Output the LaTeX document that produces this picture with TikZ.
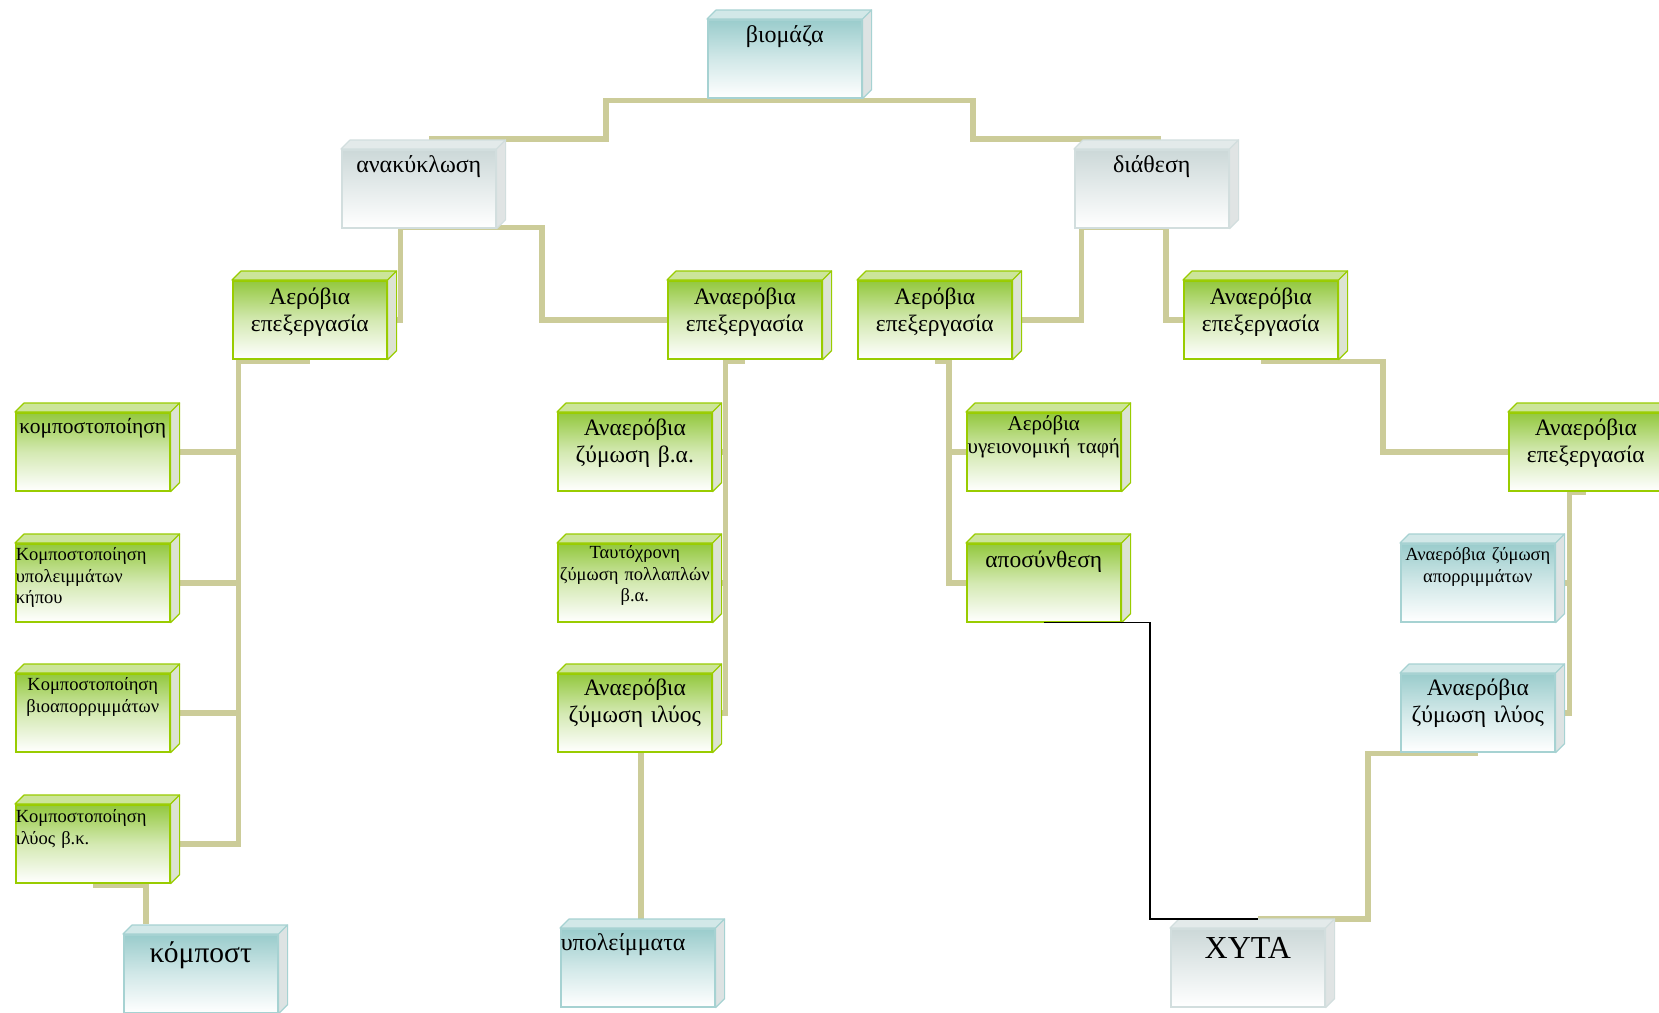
\documentclass[tikz,border=0pt]{standalone}
\usepackage{fontspec}
\setmainfont{Liberation Serif}
\usepackage{tikz}
\usetikzlibrary{backgrounds}

\definecolor{linkc}{HTML}{CCCC99}
\definecolor{gedge}{HTML}{99CC00}
\definecolor{gfront}{HTML}{93C83E}
\definecolor{gtopf}{HTML}{CCE59A}
\definecolor{gsidef}{HTML}{DCE3D2}
\definecolor{tedge}{HTML}{A6D2D2}
\definecolor{tfront}{HTML}{9ACCCC}
\definecolor{ttopf}{HTML}{D2E8E8}
\definecolor{tsidef}{HTML}{DDE3E3}
\definecolor{sedge}{HTML}{D2DEDE}
\definecolor{sfront}{HTML}{CCD8D8}
\definecolor{stopf}{HTML}{E3EAEA}
\definecolor{ssidef}{HTML}{E0E4E4}

\tikzset{
  cube/.style={anchor=north west, minimum width=154pt, text width=154pt, inner xsep=0pt, inner ysep=0pt, align=center, line width=1.6pt},
  bl/.code={\pgfmathsetlengthmacro\cubedp{78pt-#1}\edef\cubetmp{\noexpand\tikzset{text height=#1, text depth=\cubedp}}\cubetmp},
  gbox/.style={cube, draw=gedge, top color=gfront, bottom color=white, middle color=gfront!40!white},
  tbox/.style={cube, draw=tedge, top color=tfront, bottom color=white, middle color=tfront!45!white},
  sbox/.style={cube, draw=sedge, top color=sfront, bottom color=white, middle color=sfront!50!white},
  topg/.style={fill=gtopf, draw=gedge, line width=1.2pt, line join=round},
  sideg/.style={fill=gsidef, draw=gedge, line width=1.2pt, line join=round},
  topt/.style={fill=ttopf, draw=tedge, line width=1.2pt, line join=round},
  sidet/.style={fill=tsidef, draw=tedge, line width=1.2pt, line join=round},
  tops/.style={fill=stopf, draw=sedge, line width=1.2pt, line join=round},
  sides/.style={fill=ssidef, draw=sedge, line width=1.2pt, line join=round},
  link/.style={draw=linkc, line width=5.5pt},
  blk/.style={draw=black, line width=1.6pt},
  fa/.style={font=\fontsize{24}{28}\selectfont},
  fk/.style={font=\fontsize{21.5}{25}\selectfont},
  fb/.style={font=\fontsize{23.5}{27}\selectfont},
  fc/.style={font=\fontsize{18.5}{21.5}\selectfont},
  fd/.style={font=\fontsize{18.5}{21.5}\selectfont},
  ff/.style={font=\fontsize{21}{23}\selectfont},
  fe/.style={font=\fontsize{29.5}{33}\selectfont},
  fg/.style={font=\fontsize{32}{36}\selectfont}
}

\begin{document}
\begin{tikzpicture}[x=1pt, y=-1pt]
  \useasboundingbox (0,0) rectangle (1659,1012);

  % top levels
  \node[tbox, fa, bl=23pt] (bio) at (707,19) {βιομάζα};
  \node[sbox, fa, bl=23pt] (ana) at (341,149) {ανακύκλωση};
  \node[sbox, fa, bl=23pt] (dia) at (1074,149) {διάθεση};

  \node[gbox, fb, bl=24pt] (aer1) at (232,280) {Αερόβια\\επεξεργασία};
  \node[gbox, fb, bl=24pt] (anaer1) at (667,280) {Αναερόβια\\επεξεργασία};
  \node[gbox, fb, bl=24pt] (aer2) at (857,280) {Αερόβια\\επεξεργασία};
  \node[gbox, fb, bl=24pt] (anaer2) at (1183,280) {Αναερόβια\\επεξεργασία};
  \node[gbox, fb, bl=23pt] (anaer3) at (1508,412) {Αναερόβια\\επεξεργασία};

  % composting column
  \node[gbox, fk, bl=21pt] (k1) at (15,412) {κομποστοποίηση};
  \node[gbox, fc, bl=17pt, align=left] (k2) at (15,543) {Κομποστοποίηση\\υπολειμμάτων\\κήπου};
  \node[gbox, fc, bl=17pt] (k3) at (15,673) {Κομποστοποίηση\\βιοαπορριμμάτων};
  \node[gbox, fc, bl=18pt, align=left] (k4) at (15,804) {Κομποστοποίηση\\ιλύος β.κ.};
  \node[tbox, fe, bl=28pt] (komp) at (123,934) {κόμποστ};

  % anaerobic column
  \node[gbox, fb, bl=23pt] (z1) at (557,412) {Αναερόβια\\ζύμωση β.α.};
  \node[gbox, fd, bl=15pt] (z2) at (557,543) {Ταυτόχρονη\\\mbox{ζύμωση πολλαπλών}\\β.α.};
  \node[gbox, fb, bl=22pt] (z3) at (557,673) {Αναερόβια\\ζύμωση ιλύος};
  \node[tbox, fa, bl=22pt, align=left] (ypol) at (560,928) {υπολείμματα};

  % disposal side
  \node[gbox, ff, bl=18pt] (taf) at (966,412) {Αερόβια\\\mbox{υγειονομική ταφή}};
  \node[gbox, fb, bl=24pt] (apos) at (966,543) {αποσύνθεση};
  \node[tbox, fd, bl=17pt] (zap) at (1400,543) {\mbox{Αναερόβια ζύμωση}\\απορριμμάτων};
  \node[tbox, fb, bl=22pt] (zil) at (1400,673) {Αναερόβια\\ζύμωση ιλύος};
  \node[sbox, fg, bl=30pt] (xyta) at (1170,928) {ΧΥΤΑ};

  % 3d faces
  \foreach \n/\c in {bio/t, ana/s, dia/s, aer1/g, anaer1/g, aer2/g, anaer2/g, anaer3/g,
                     k1/g, k2/g, k3/g, k4/g, komp/t, z1/g, z2/g, z3/g, ypol/t,
                     taf/g, apos/g, zap/t, zil/t, xyta/s}{
    \path[top\c] (\n.north west) -- ++(9,-9) -- ([shift={(9,-9)}]\n.north east) -- (\n.north east) -- cycle;
    \path[side\c] (\n.north east) -- ++(9,-9) -- ([shift={(9,-9)}]\n.south east) -- (\n.south east) -- cycle;
  }

  % connectors
  \begin{scope}[on background layer]
    \fill[white] (0,0) rectangle (1659,1012);
    \draw[link] ([shift={(0,2)}]bio.south) -- ++(-179,0) |- ([shift={(10,-10)}]ana.north);
    \draw[link] ([shift={(0,2)}]bio.south) -- ++(188,0) |- ([shift={(9,-10)}]dia.north);
    \draw[link] ([shift={(0,-1)}]ana.south) -| ([shift={(13,0)}]aer1.east) -- (aer1.east);
    \draw[link] ([shift={(0,-1)}]ana.south) -- ++(123,0) |- (anaer1.west);
    \draw[link] ([shift={(0,-1)}]dia.south) -| ([shift={(69,0)}]aer2.east) -- (aer2.east);
    \draw[link] ([shift={(0,-1)}]dia.south) -| ([shift={(-17,0)}]anaer2.west) -- (anaer2.west);
    \draw[link] ([shift={(0,2)}]anaer2.south) -| ([shift={(-125,0)}]anaer3.west) -- (anaer3.west);

    \coordinate (trunkk) at ([shift={(68,0)}]k4.east);
    \draw[link] ([shift={(0,2)}]aer1.south) -| (trunkk) -- (k4.east);
    \draw[link] (k1.east) -- (k1.east -| trunkk);
    \draw[link] (k2.east) -- (k2.east -| trunkk);
    \draw[link] (k3.east) -- (k3.east -| trunkk);
    \draw[link] ([shift={(0,2)}]k4.south) -| ([shift={(-55,-10)}]komp.north);

    \coordinate (trunkz) at ([shift={(13,0)}]z3.east);
    \draw[link] ([shift={(0,2)}]anaer1.south) -| (trunkz) -- (z3.east);
    \draw[link] (z1.east) -- (z1.east -| trunkz);
    \draw[link] (z2.east) -- (z2.east -| trunkz);
    \draw[link] ([shift={(6,0)}]z3.south) -- ([shift={(3,-9)}]ypol.north);

    \coordinate (trunkt) at ([shift={(-17,0)}]apos.west);
    \draw[link] ([shift={(0,2)}]aer2.south) -| (trunkt) -- (apos.west);
    \draw[link] (taf.west) -- (taf.west -| trunkt);

    \coordinate (trunkr) at ([shift={(14,0)}]zil.east);
    \draw[link] ([shift={(0,1)}]anaer3.south) -| (trunkr) -- (zil.east);
    \draw[link] (zap.east) -- (zap.east -| trunkr);

    \draw[link] ([shift={(0,1)}]zil.south) -| ([shift={(120,-9)}]xyta.north) -- ([shift={(10,-9)}]xyta.north);
  \end{scope}
  \draw[blk] (apos.south) -| ([shift={(-98,-9)}]xyta.north) -- ([shift={(10,-9)}]xyta.north);
\end{tikzpicture}
\end{document}
